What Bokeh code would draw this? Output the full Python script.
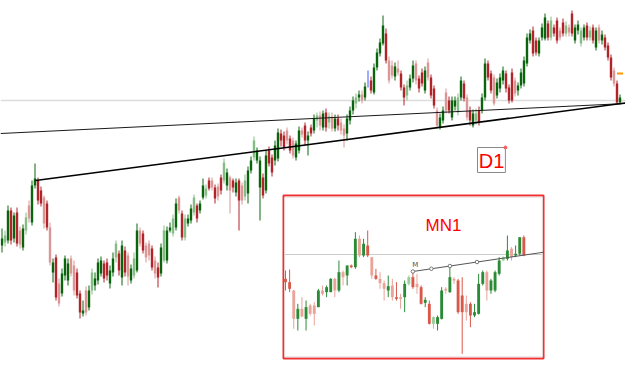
from bokeh.plotting import figure
from bokeh.models import Range1d, ColumnDataSource
from bokeh.embed import file_html
from bokeh.resources import INLINE
from bokeh.core.properties import value

# ---------------- D1 candles (vertical level units, larger = lower on chart) ----------------
d1_open = [245,242,240,210,238,212,230,247,230,205,
           222,185,180,190,197,203,227,272,257,283,
           293,275,280,258,265,272,293,313,290,307,
           290,285,280,273,263,262,283,272,257,253,
           277,250,255,280,275,270,230,233,245,243,
           248,260,267,273,260,260,230,233,227,197,
           213,237,223,220,212,205,210,197,195,180,
           180,187,186,177,180,185,177,180,192,180,
           185,196,193,170,157,160,187,177,190,150,
           157,160,158,133,135,130,138,140,157,150,
           130,125,140,127,130,120,115,127,112,122,
           116,128,118,122,128,133,120,110,103,97,
           94,97,80,80,92,67,53,43,33,60,
           65,76,68,73,87,95,87,78,63,78,
           72,90,62,77,88,110,127,120,92,100,
           117,106,112,97,83,97,110,125,120,110,
           110,97,63,73,77,95,88,80,73,87,
           72,80,90,85,83,63,40,30,40,53,
           37,38,23,37,27,20,30,22,33,27,
           13,40,30,43,37,25,37,27,47,27,
           40,37,45,57,70,83,102]
d1_close = [238,235,210,240,215,243,244,228,217,218,
            185,178,200,203,223,227,262,262,297,303,
            273,258,263,273,290,295,312,310,312,290,
            272,278,262,260,278,275,270,258,243,270,
            245,272,276,268,258,230,243,250,257,255,
            267,273,277,247,230,230,227,218,203,210,
            237,218,218,208,197,218,203,185,188,188,
            187,198,196,190,162,172,190,187,182,200,
            200,180,170,160,140,150,160,195,155,163,
            172,145,132,140,147,140,150,155,143,130,
            134,140,135,133,118,115,125,113,127,116,
            128,118,125,130,135,118,110,100,97,94,
            100,86,80,90,67,52,42,25,60,80,
            75,66,72,87,97,85,78,65,80,88,
            83,70,77,95,105,125,117,110,110,110,
            100,100,97,80,98,117,120,113,113,122,
            97,63,77,90,103,82,77,70,88,100,
            100,93,85,72,60,37,33,53,52,40,
            27,17,37,20,33,40,37,33,25,32,
            33,27,24,30,27,37,30,40,30,40,
            34,47,57,77,83,102,97]
d1_high = [228,230,205,207,212,207,226,224,212,200,
           180,163,177,186,195,200,222,258,254,278,
           268,255,258,255,260,268,290,300,286,285,
           268,272,258,256,260,258,265,252,240,250,
           240,246,252,264,252,223,227,230,242,240,
           245,256,262,243,225,226,222,214,198,195,
           210,214,214,204,194,203,200,178,184,177,
           177,184,183,174,158,168,175,178,178,178,
           182,174,166,156,136,147,156,173,150,146,
           154,140,128,129,131,127,135,137,140,126,
           127,122,131,124,114,112,111,110,108,112,
           112,114,114,118,124,114,106,96,93,90,
           90,82,70,76,63,48,38,15,28,56,
           60,62,60,70,84,80,74,60,60,75,
           68,66,58,74,85,107,113,106,88,96,
           96,96,93,76,80,94,106,109,108,106,
           93,58,60,70,74,78,73,66,70,84,
           68,77,82,68,56,33,29,26,37,37,
           23,13,20,16,24,17,27,18,21,24,
           10,24,20,27,24,22,26,24,27,24,
           30,34,42,54,67,80,94]
d1_low = [252,246,243,244,242,246,248,250,234,222,
          225,188,204,206,228,230,265,282,300,306,
          296,280,285,276,295,298,318,316,315,310,
          294,290,284,276,282,280,288,276,262,275,
          285,276,285,283,278,272,246,253,262,260,
          270,278,287,276,262,263,232,236,230,213,
          240,240,226,223,215,222,213,199,198,190,
          190,203,200,194,183,190,213,192,196,230,
          204,200,203,173,160,163,220,198,193,166,
          176,165,161,146,150,144,153,158,160,153,
          137,145,155,136,133,127,130,130,131,128,
          131,131,130,134,147,140,124,114,108,101,
          103,100,87,93,94,70,56,45,63,83,
          78,80,75,90,105,100,90,82,84,92,
          86,93,80,98,108,128,129,123,113,113,
          120,110,115,100,101,120,125,127,124,125,
          113,100,80,93,105,98,92,84,92,103,
          102,96,95,88,86,66,43,56,55,56,
          40,40,40,40,36,43,40,36,36,36,
          36,43,34,46,40,40,40,43,50,43,
          44,50,60,80,86,104,104]
d1_faded = [0,1,0,0,0,0,1,0,1,1,
            0,0,0,0,1,0,1,0,0,1,
            0,0,0,1,1,0,0,0,1,0,
            1,0,0,0,0,0,0,0,1,0,
            0,0,1,0,1,0,1,0,1,1,
            0,1,0,0,1,0,0,1,0,1,
            0,1,0,0,1,0,0,0,1,0,
            1,0,1,0,1,0,1,0,0,0,
            1,1,0,0,1,0,0,0,0,0,
            0,0,0,0,0,1,0,1,0,0,
            1,0,0,0,0,1,1,0,0,1,
            1,0,0,1,1,0,0,0,1,0,
            1,0,0,0,0,0,0,0,0,1,
            1,0,1,0,0,1,0,0,1,0,
            0,0,1,0,0,1,0,0,1,0,
            0,0,1,0,0,1,0,0,1,0,
            0,0,0,0,1,0,0,0,0,0,
            0,1,0,0,0,0,0,0,0,0,
            0,0,0,1,0,0,1,0,1,1,
            0,0,0,1,0,0,1,0,0,1,
            0,0,0,0,1,0,0]
d1_level = 100
d1_trend_a_x = [-0.5, 207.83]
d1_trend_a_y = [133, 103]
d1_trend_b_x = [11.17, 207.83]
d1_trend_b_y = [180, 102.5]
d1_marker_x = [206.0]
d1_marker_y = [73]

# ---------------- MN1 inset candles ----------------
mn1_open = [265,275,300,385,355,385,345,345,350,300,
            305,305,265,300,245,255,225,230,145,195,
            165,200,255,265,278,300,285,320,320,320,
            280,260,280,290,337,340,400,400,385,295,
            305,265,270,315,340,340,375,370,280,245,
            300,300,250,210,205,175,195,190,140]
mn1_close = [275,295,385,355,378,350,370,370,300,310,
             290,265,300,245,260,225,230,145,195,160,
             195,255,265,278,295,287,320,325,325,280,
             260,290,290,340,328,400,380,380,300,300,
             260,270,365,365,365,375,365,280,245,300,
             270,245,210,200,180,200,190,140,195]
mn1_high = [240,237,298,340,320,330,340,335,295,285,
            285,263,262,210,240,225,222,125,135,145,
            120,200,235,245,270,255,265,275,310,270,
            255,243,250,285,320,330,378,375,290,290,
            225,260,265,260,315,335,340,250,240,240,
            265,240,200,198,135,170,165,140,135]
mn1_low = [300,305,415,420,380,420,375,405,350,315,
           320,305,320,305,285,285,233,235,200,200,
           200,265,268,295,330,320,330,330,355,365,
           285,295,310,342,350,402,415,420,387,310,
           307,280,370,490,390,410,380,372,285,330,
           310,305,255,212,210,210,200,195,197]
mn1_faded = [0,0,1,0,1,0,1,1,0,1,
             0,0,1,0,1,0,0,0,1,0,
             0,1,0,1,1,0,1,0,1,0,
             1,0,1,0,0,0,1,0,0,1,
             0,1,0,0,1,0,0,0,0,1,
             0,0,0,1,0,1,0,0,0]
mn1_level = 192
mn1_trend_x = [31.0, 62.9]
mn1_trend_y = [243, 185]
mn1_anchor_x = [31.0, 35.5, 40.0, 46.6]

W, H = 625, 384
p = figure(width=W, height=H, x_range=Range1d(-0.5, 207.8333), y_range=Range1d(384, 0),
           x_axis_type=None, y_axis_type=None, output_backend="svg",
           toolbar_location=None, min_border=0, outline_line_color=None,
           background_fill_color="white", border_fill_color="white")
p.extra_x_ranges = {"mn1": Range1d(-69.36, 82.74)}
p.extra_y_ranges = {"mn1": Range1d(582, -570)}


def draw_candles(o, c, h, l, f, pal, width, rng=None):
    kw = {}
    if rng:
        kw = dict(x_range_name=rng, y_range_name=rng)
    for faded_pass in (1, 0):
        xs, tops, bots, hs, ls, cols = [], [], [], [], [], []
        for i in range(len(o)):
            if f[i] != faded_pass:
                continue
            if o[i] == c[i]:
                col = pal["doji"]
            elif c[i] < o[i]:
                col = pal["up_f"] if f[i] else pal["up"]
            else:
                col = pal["dn_f"] if f[i] else pal["dn"]
            xs.append(i); tops.append(o[i]); bots.append(c[i])
            hs.append(h[i]); ls.append(l[i]); cols.append(col)
        src = ColumnDataSource(dict(x=xs, t=tops, b=bots, h=hs, l=ls, col=cols))
        p.segment(x0="x", x1="x", y0="h", y1="l", line_color="col", line_width=1, source=src, **kw)
        p.vbar(x="x", width=width, top="t", bottom="b", fill_color="col", line_color=None, source=src, **kw)


# main level line
p.segment(x0=[-0.5], x1=[207.83], y0=[d1_level], y1=[d1_level], line_color="#dcdcdc", line_width=1.5)

draw_candles(d1_open, d1_close, d1_high, d1_low, d1_faded,
             dict(up="#0a640e", up_f="#86bc86", dn="#b0242a", dn_f="#dc9696", doji="#3a5cff"), 0.8)

p.line(d1_trend_a_x, d1_trend_a_y, line_color="#1a1a1a", line_width=1)
p.line(d1_trend_b_x, d1_trend_b_y, line_color="#000000", line_width=1.6)
p.dash(d1_marker_x, d1_marker_y, size=6, line_color="#ff9900", line_width=2)

# D1 label box
p.quad(left=[158.5], right=[167.8], top=[147], bottom=[172], fill_color="white",
       line_color="#8a8a8a", line_width=1)
p.text(x=[163.2], y=[160.5], text=["D1"], text_color="#ff0000", text_font=value("Liberation Sans"),
       text_font_size="20px", text_align="center", text_baseline="middle")
p.scatter([167.8], [147], size=3, color="#ff5a5a")

# MN1 inset
R = dict(x_range_name="mn1", y_range_name="mn1")
p.quad(left=[-0.49], right=[62.79], top=[15], bottom=[504], fill_color="white",
       line_color="#f03030", line_width=2, **R)
p.quad(left=[-0.2], right=[62.5], top=[20], bottom=[499], fill_color=None,
       line_color="#e8dcdc", line_width=1, **R)
p.segment(x0=[-0.2], x1=[62.5], y0=[mn1_level], y1=[mn1_level], line_color="#cccccc", line_width=1, **R)
p.text(x=[38.45], y=[106], text=["MN1"], text_color="#ff0000", text_font=value("Liberation Sans"),
       text_font_size="17px", text_align="center", text_baseline="middle", **R)

draw_candles(mn1_open, mn1_close, mn1_high, mn1_low, mn1_faded,
             dict(up="#2b8a36", up_f="#9ccc9c", dn="#d9584a", dn_f="#eaa398", doji="#3a5cff"), 0.7, "mn1")

p.line(mn1_trend_x, mn1_trend_y, line_color="#555555", line_width=1, **R)
slope = (mn1_trend_y[1] - mn1_trend_y[0]) / (mn1_trend_x[1] - mn1_trend_x[0])
anchor_y = [mn1_trend_y[0] + slope * (x - mn1_trend_x[0]) for x in mn1_anchor_x]
p.scatter(mn1_anchor_x, anchor_y, size=3.5, fill_color="white", line_color="#777777", **R)
p.text(x=[31.6], y=[222], text=["M"], text_color="#555555", text_font=value("DejaVu Sans"),
       text_font_size="7px", text_align="center", text_baseline="middle", **R)

open("out.html", "w").write(file_html(p, INLINE))
